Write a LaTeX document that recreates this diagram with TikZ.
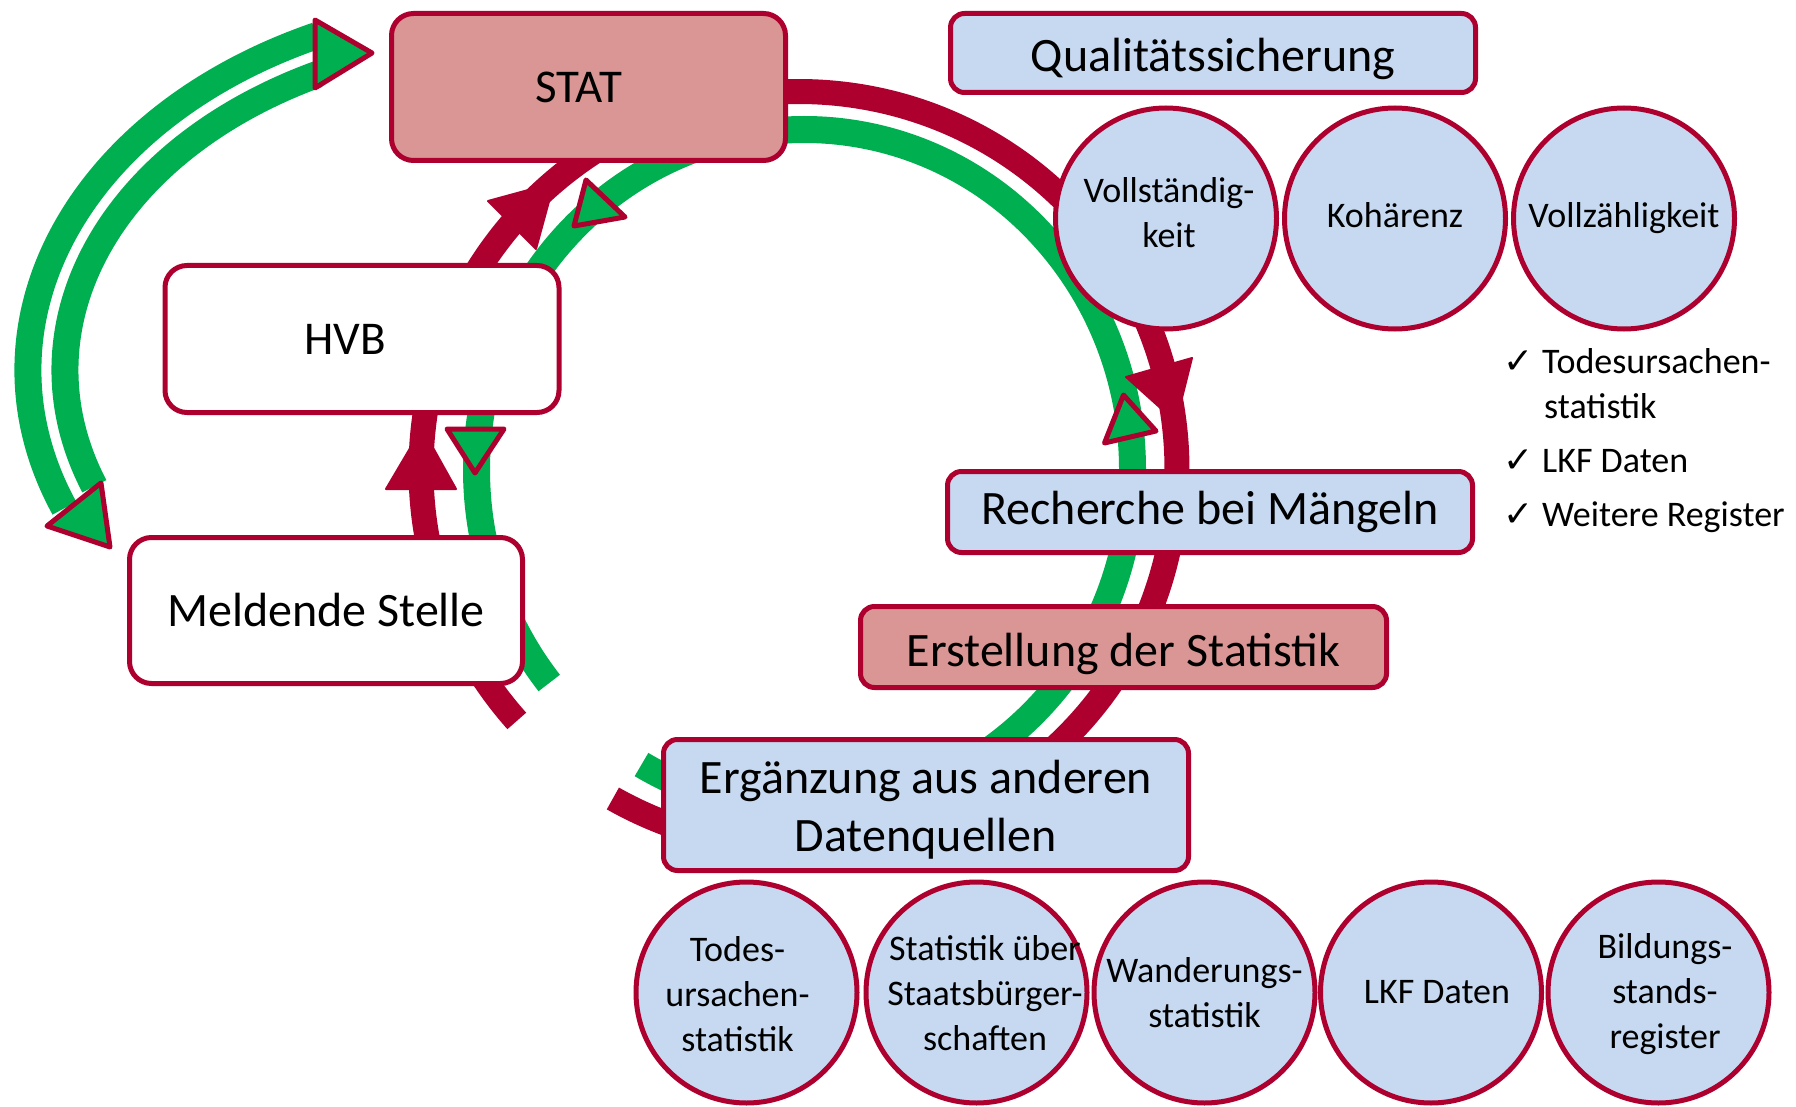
\documentclass[tikz,border=0pt]{standalone}
\usepackage{fontspec}
\setmainfont{Carlito}
\newfontfamily\dejavu{DejaVu Sans}
\definecolor{dred}{RGB}{173,0,46}
\definecolor{pgreen}{RGB}{0,176,80}
\definecolor{lred}{RGB}{217,150,148}
\definecolor{lblue}{RGB}{198,217,241}
\pgfdeclarelayer{bg}
\pgfsetlayers{bg,main}
\begin{document}
\begin{tikzpicture}[x=1pt,y=-1pt,
  bigbox/.style={draw=dred, line width=5pt, rounded corners=22pt, inner sep=0pt,
    minimum height=147pt, minimum width=394pt, font=\fontsize{48}{58}\selectfont, align=center},
  smallbox/.style={draw=dred, line width=5pt, rounded corners=14pt, inner sep=0pt,
    minimum width=525pt, fill=lblue, font=\fontsize{48}{58}\selectfont, align=center},
  boxtext/.style={font=\fontsize{48}{58}\selectfont, align=center, inner sep=0pt},
  circ/.style={circle, draw=dred, line width=5pt, fill=lblue, minimum size=221pt, inner sep=0pt,
    font=\fontsize{36}{45}\selectfont, align=center},
  ctext/.style={font=\fontsize{36}{45}\selectfont, align=center, inner sep=0pt},
  chk/.style={font=\dejavu\fontsize{36}{40}\selectfont, inner sep=0pt, anchor=base west},
  chktext/.style={font=\fontsize{36}{45}\selectfont, inner sep=0pt, anchor=base west},
  gline/.style={draw=pgreen, line width=27pt},
  rline/.style={draw=dred, line width=25pt},
  rhead/.style={fill=dred, draw=dred, line width=2pt, line join=round},
  ghead/.style={fill=pgreen, draw=dred, line width=5pt, line join=round}
]
\useasboundingbox (0,0) rectangle (1796,1107);

% boxes
\node[bigbox, fill=lred] (stat) at (588.5,87) {};
\node[boxtext, font=\fontsize{47}{56}\selectfont] (stattext) at (578.5,87) {STAT};
\node[bigbox, fill=white] (hvb) at (362,339) {};
\node[boxtext, font=\fontsize{47}{56}\selectfont] (hvbtext) at (345,339) {HVB};
\node[bigbox, fill=white, minimum width=393pt, minimum height=146pt] (meld) at (326,610.5) {Meldende Stelle};
\node[smallbox, minimum height=79pt] (qual) at (1213,53) {};
\node[boxtext] (qualtext) at (1213,59) {Qualitätssicherung};
\node[smallbox, minimum height=81pt] (rech) at (1210,512) {Recherche bei Mängeln};
\node[smallbox, minimum height=81pt, minimum width=526pt, fill=lred] (erst) at (1123.5,647) {};
\node[boxtext] (ersttext) at (1123.5,654) {Erstellung der Statistik};
\node[smallbox, minimum height=131pt] (ergz) at (926,805) {};
\node[boxtext] (ergztext) at (926,810) {Ergänzung aus anderen\\Datenquellen};

% quality circles
\node[circ] (voll) at (1166,218.5) {};
\node[ctext] (volltext) at (1169,213) {Vollständig-\\keit};
\node[circ] (koh) at (1395,218.5) {};
\node[ctext] (kohtext) at (1395,215) {Kohärenz};
\node[circ] (vollz) at (1624,218.5) {Vollzähligkeit};

% data source circles
\node[circ] (src1) at (746.5,992.5) {};
\node[ctext] (src1text) at (737.5,994) {Todes-\\ursachen-\\statistik};
\node[circ] (src2) at (976.5,992.5) {};
\node[ctext] (src2text) at (985,993) {Statistik über\\Staatsbürger-\\schaften};
\node[circ] (src3) at (1204.5,992.5) {Wanderungs-\\statistik};
\node[circ] (src4) at (1431,992.5) {};
\node[ctext] (src4text) at (1437,992.5) {LKF Daten};
\node[circ] (src5) at (1658.5,992.5) {};
\node[ctext] (src5text) at (1665,994) {Bildungs-\\stands-\\register};

% check list
\node[chk] (k1) at (1503,373) {✓};
\node[chktext] (l1) at (1542,373) {Todesursachen-};
\node[chktext] (l1b) at (1544,418) {statistik};
\node[chk] (k2) at (1503,472) {✓};
\node[chktext] (l2) at (1542,472) {LKF Daten};
\node[chk] (k3) at (1503,526) {✓};
\node[chktext] (l3) at (1542,526) {Weitere Register};

% centres of the curved connectors
\coordinate (lc) at (528,370);
\coordinate (rc) at (799,469.5);
\coordinate (gc) at (804.5,469.5);

\begin{pgfonlayer}{bg}
  % big double arc on the left
  \draw[gline] (lc) ++(245:500 and 369) arc[start angle=245, end angle=158, x radius=500, y radius=369];
  \draw[gline] (lc) ++(243:463 and 332) arc[start angle=243, end angle=159.5, x radius=463, y radius=332];
  \draw[ghead] (315,20) -- (315,88) -- (372,53) -- cycle;
  \draw[ghead] (47,526) -- (101,483) -- (110,547) -- cycle;

  % cycle
  \draw[gline] (gc) ++(141.1:328 and 340) arc[start angle=141.1, end angle=479.8, x radius=328, y radius=340];
  \draw[rline] (rc) ++(138.3:378) arc[start angle=138.3, end angle=479.5, radius=378];

  % red heads
  \draw[rhead] (386,489) -- (456,489) -- (422,428) -- cycle;
  \draw[rhead] (488,201) -- (536,249) -- (554,183) -- cycle;
  \draw[rhead] (1126,377) -- (1192,358) -- (1176,422) -- cycle;

  % green heads
  \draw[ghead] (447,429) -- (504,429) -- (475,473) -- cycle;
  \draw[ghead] (586,180) -- (625,217) -- (574,226) -- cycle;
  \draw[ghead] (1123.5,395) -- (1104.5,443) -- (1156,431) -- cycle;
\end{pgfonlayer}
\end{tikzpicture}
\end{document}
